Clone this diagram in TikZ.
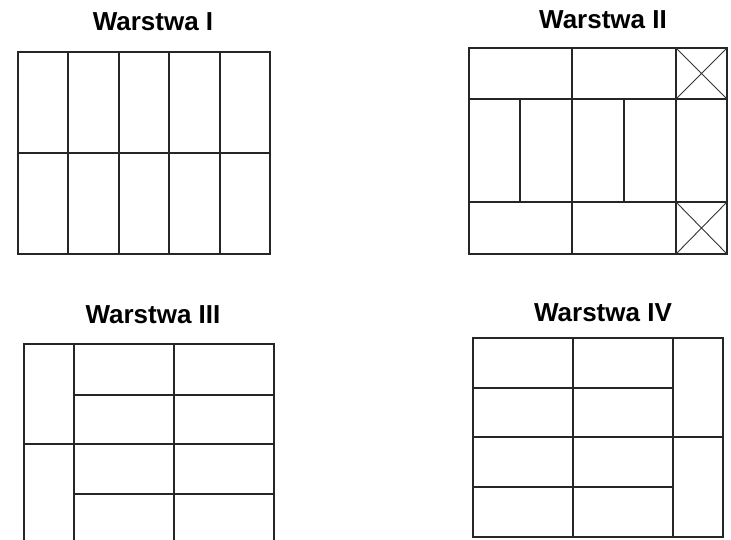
\documentclass[tikz,border=0pt]{standalone}
\usepackage{fontspec}
\setmainfont{Liberation Sans}
\usetikzlibrary{positioning}

\begin{document}
\begin{tikzpicture}[
  x=1pt, y=-1pt,
  wall/.style={draw=black!85, line width=1.4pt},
  cross/.style={draw=black!80, line width=0.9pt},
  title/.style={font=\fontsize{26}{30}\selectfont\bfseries, inner sep=0pt},
]
\useasboundingbox (0,0) rectangle (731,540);

% Warstwa I
\node[title] (t1) at (153,22) {Warstwa I};
\draw[wall] (18,52) rectangle (270,254);
\foreach \x in {68,119,169,220}
  \draw[wall] (\x,52) -- (\x,254);
\draw[wall] (18,153) -- (270,153);

% Warstwa II
\node[title] (t2) at (603,20) {Warstwa II};
\draw[wall] (469,48) rectangle (727,254);
\draw[wall] (469,99) -- (727,99) (469,202) -- (727,202);
\draw[wall] (572,48) -- (572,254) (676,48) -- (676,254);
\draw[wall] (520,99) -- (520,202) (624,99) -- (624,202);
% crossed cells
\draw[cross] (676,48) -- (727,99) (727,48) -- (676,99);
\draw[cross] (676,202) -- (727,254) (727,202) -- (676,254);

% Warstwa III
\node[title] (t3) at (153,315) {Warstwa III};
\draw[wall] (24,542) -- (24,344) -- (274,344) -- (274,542);
\draw[wall] (74,344) -- (74,542) (174,344) -- (174,542);
\draw[wall] (24,444) -- (274,444);
\draw[wall] (74,395) -- (274,395) (74,494) -- (274,494);

% Warstwa IV
\node[title] (t4) at (603,313) {Warstwa IV};
\draw[wall] (473,338) rectangle (723,537);
\draw[wall] (573,338) -- (573,537) (673,338) -- (673,537);
\draw[wall] (473,437) -- (723,437);
\draw[wall] (473,388) -- (673,388) (473,487) -- (673,487);

\end{tikzpicture}
\end{document}
